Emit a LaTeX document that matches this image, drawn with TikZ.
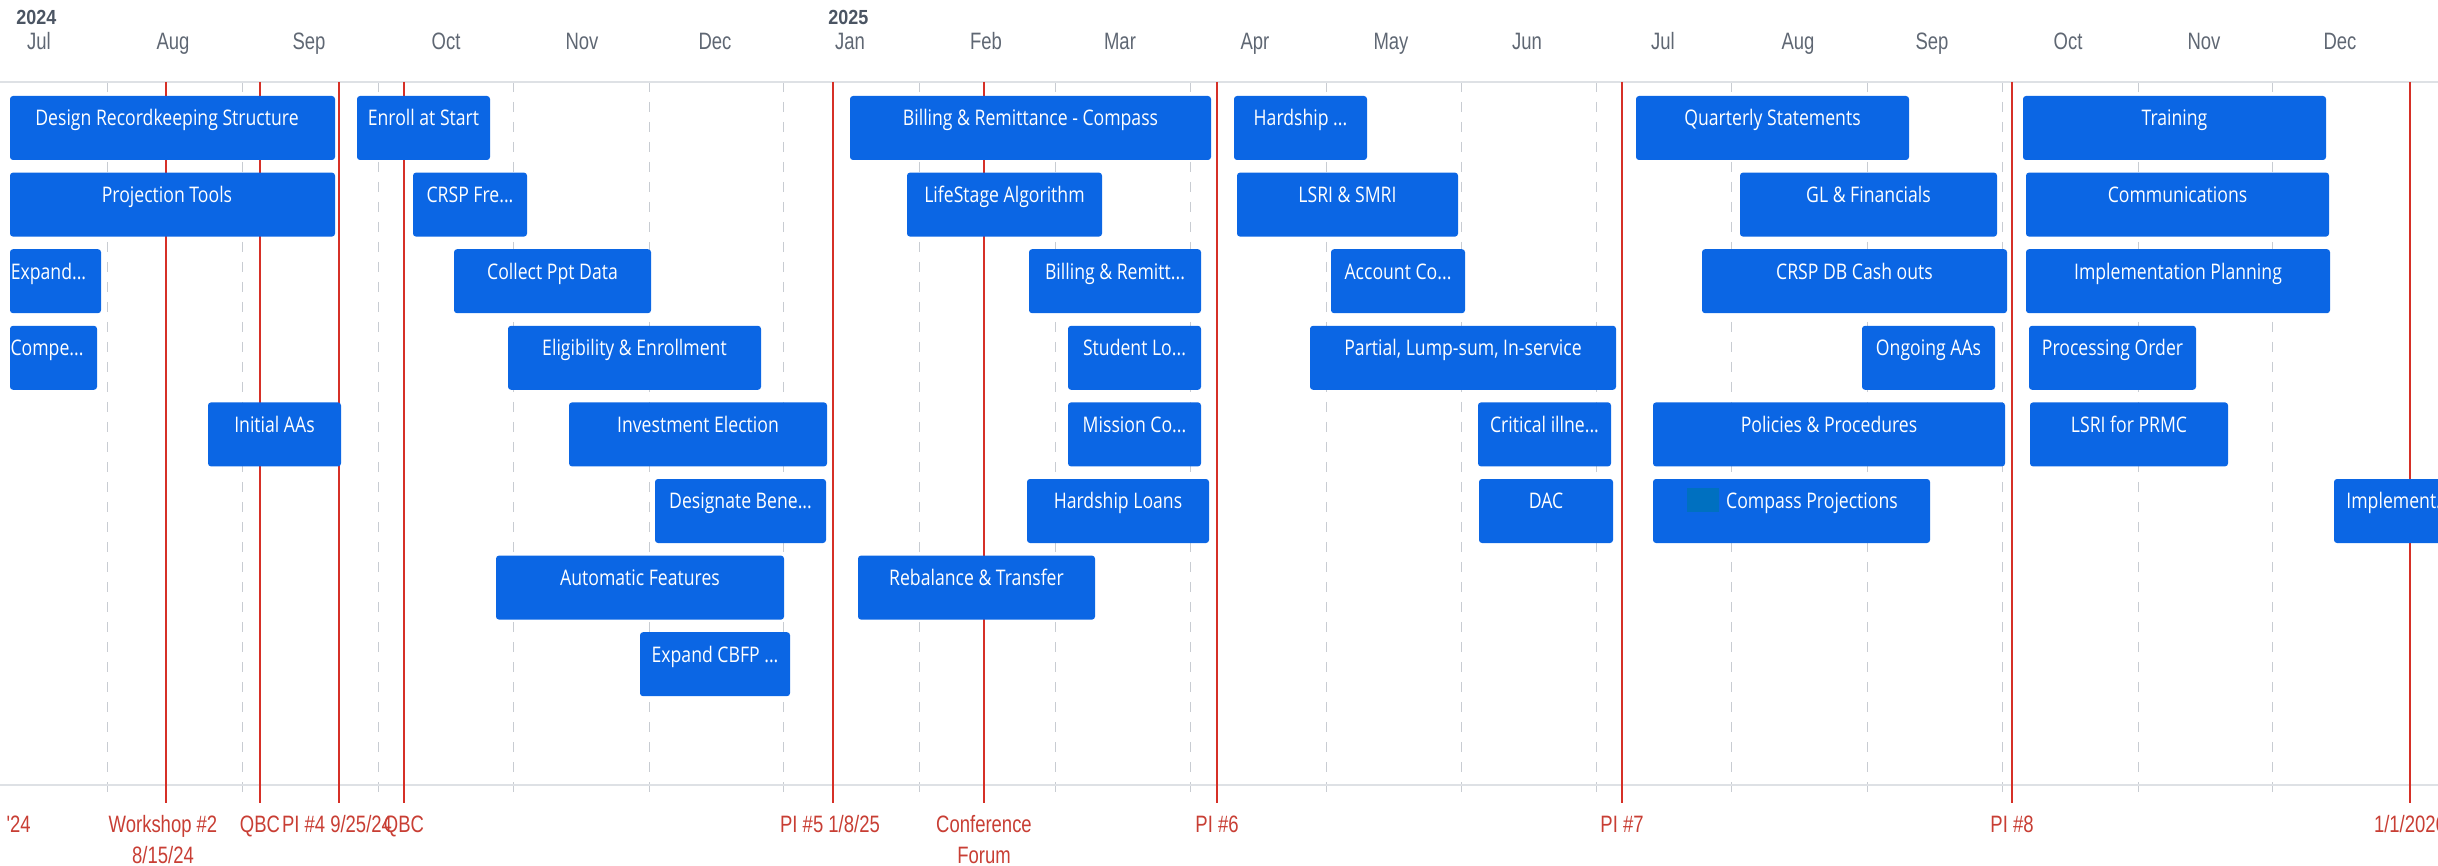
\documentclass[tikz,border=0pt]{standalone}
\usepackage{fontspec}
\setmainfont{Open Sans}
\newfontfamily\boxfont{Open Sans}[FakeStretch=0.82]
\newfontfamily\labfont{Liberation Sans}[FakeStretch=0.78]
\newfontfamily\yearfont{Liberation Sans}[FakeStretch=0.88]
\definecolor{barblue}{RGB}{11,102,228}
\definecolor{iconblue}{RGB}{0,112,192}
\definecolor{milered}{RGB}{214,48,39}
\definecolor{labred}{RGB}{200,62,52}
\definecolor{gridgray}{RGB}{200,204,210}
\definecolor{axisgray}{RGB}{222,225,229}
\definecolor{monthgray}{RGB}{95,103,115}
\definecolor{yeargray}{RGB}{75,85,99}
\tikzset{
  bar/.style={fill=barblue, rounded corners=1.5pt, minimum height=32pt, inner sep=0pt, draw=none},
  bartext/.style={text=white, font=\boxfont\fontsize{10.75}{12}\selectfont, anchor=base, inner sep=0pt},
  iconsq/.style={fill=iconblue, draw=none, minimum width=16pt, minimum height=12pt, inner sep=0pt},
  gridln/.style={draw=gridgray, line width=0.5pt, dash pattern=on 5pt off 5pt},
  axisln/.style={draw=axisgray, line width=1.25pt},
  redln/.style={draw=milered, line width=0.9pt},
  mlab/.style={text=monthgray, font=\labfont\fontsize{11.85}{13}\selectfont, anchor=base, inner sep=0pt},
  rlab/.style={text=labred, font=\labfont\fontsize{11.85}{13}\selectfont, anchor=base, inner sep=0pt},
  ylab/.style={text=yeargray, font=\yearfont\bfseries\fontsize{10.2}{11}\selectfont, anchor=base west, inner sep=0pt}
}
\newcommand\gtask[6][]{%
  \pgfmathsetmacro\gx{(#3+#4)/2}%
  \pgfmathsetmacro\gw{(#4-#3)*0.5}%
  \pgfmathsetmacro\gy{128+76.6*(#5-1)}%
  \pgfmathsetmacro\gb{\gy-2}%
  \node[bar, minimum width=\gw pt] (#2) at (\gx,\gy) {};%
  \node[bartext, #1] (#2-t) at (\gx,\gb) {#6};%
}
\newcommand\mline[2]{%
  \coordinate (#1-top) at (#2,82);%
  \coordinate (#1-bot) at (#2,803);%
  \draw[redln] (#1-top) -- (#1-bot);%
}
\begin{document}
\begin{tikzpicture}[x=0.5pt,y=-0.5pt]
\useasboundingbox (0,0) rectangle (2438,866);
\clip (0,0) rectangle (2438,866);
% year and month labels
\node[ylab] (y24) at (16,25) {2024};
\node[ylab] (y25) at (828,25) {2025};
\foreach \mx/\mn [count=\i] in {39/Jul,173/Aug,309/Sep,446/Oct,582/Nov,715/Dec,850/Jan,986/Feb,1120/Mar,1255/Apr,1391/May,1527/Jun,1663/Jul,1798/Aug,1932/Sep,2068/Oct,2204/Nov,2340/Dec}
  \node[mlab] (mon\i) at (\mx,50) {\mn};
% grid
\foreach \gxx in {107,242,378,513,649,783,919,1055,1190,1326,1461,1596,1731,1867,2002,2138,2272,2410}
  \draw[gridln] (\gxx,82) -- (\gxx,792);
\draw[axisln] (0,82) -- (2438,82);
\draw[axisln] (0,785) -- (2438,785);
% milestones
\mline{ms1}{166}
\mline{ms2}{260}
\mline{ms3}{339}
\mline{ms4}{404}
\mline{ms5}{833}
\mline{ms6}{984}
\mline{ms7}{1217}
\mline{ms8}{1622}
\mline{ms9}{2012}
\mline{ms10}{2410}
\node[rlab, anchor=base east] (ms0-l) at (31,832) {'24};
\node[rlab] (ms1-l) at (163,832) {Workshop \#2};
\node[rlab] (ms1-l2) at (163,863) {8/15/24};
\node[rlab] (ms2-l) at (260,832) {QBC};
\node[rlab] (ms3-l) at (337,832) {PI \#4 9/25/24};
\node[rlab] (ms4-l) at (404,832) {QBC};
\node[rlab] (ms5-l) at (830,832) {PI \#5 1/8/25};
\node[rlab] (ms6-l) at (984,832) {Conference};
\node[rlab] (ms6-l2) at (984,863) {Forum};
\node[rlab] (ms7-l) at (1217,832) {PI \#6};
\node[rlab] (ms8-l) at (1622,832) {PI \#7};
\node[rlab] (ms9-l) at (2012,832) {PI \#8};
\node[rlab] (ms10-l) at (2410,832) {1/1/2026};
% tasks 2024
\gtask[xshift=-2.75pt]{d1}{10}{335}{1}{Design Recordkeeping Structure}
\gtask{d2}{357}{490}{1}{Enroll at Start}
\gtask[xshift=-2.75pt]{d3}{10}{335}{2}{Projection Tools}
\gtask{d4}{413}{527}{2}{CRSP Fre...}
\gtask[xshift=-3.5pt]{d5}{10}{101}{3}{Expand...}
\gtask{d6}{454}{651}{3}{Collect Ppt Data}
\gtask[xshift=-3.25pt]{d7}{10}{97}{4}{Compe...}
\gtask{d8}{508}{761}{4}{Eligibility \& Enrollment}
\gtask{d9}{208}{341}{5}{Initial AAs}
\gtask{d10}{569}{827}{5}{Investment Election}
\gtask{d11}{655}{826}{6}{Designate Bene...}
\gtask{d12}{496}{784}{7}{Automatic Features}
\gtask{d13}{640}{790}{8}{Expand CBFP ...}
% tasks 2025 H1
\gtask{m1}{850}{1211}{1}{Billing \& Remittance - Compass}
\gtask{m2}{1234}{1367}{1}{Hardship ...}
\gtask{m3}{907}{1102}{2}{LifeStage Algorithm}
\gtask{m4}{1237}{1458}{2}{LSRI \& SMRI}
\gtask{m5}{1029}{1201}{3}{Billing \& Remitt...}
\gtask{m6}{1331}{1465}{3}{Account Co...}
\gtask{m7}{1068}{1201}{4}{Student Lo...}
\gtask{m8}{1310}{1616}{4}{Partial, Lump-sum, In-service}
\gtask{m9}{1068}{1201}{5}{Mission Co...}
\gtask{m10}{1478}{1611}{5}{Critical illne...}
\gtask{m11}{1027}{1209}{6}{Hardship Loans}
\gtask{m12}{1479}{1613}{6}{DAC}
\gtask{m13}{858}{1095}{7}{Rebalance \& Transfer}
% tasks 2025 H2
\gtask{r1}{1636}{1909}{1}{Quarterly Statements}
\gtask{r2}{2023}{2326}{1}{Training}
\gtask{r3}{1740}{1997}{2}{GL \& Financials}
\gtask{r4}{2026}{2329}{2}{Communications}
\gtask{r5}{1702}{2007}{3}{CRSP DB Cash outs}
\gtask{r6}{2026}{2330}{3}{Implementation Planning}
\gtask{r7}{1862}{1995}{4}{Ongoing AAs}
\gtask{r8}{2029}{2196}{4}{Processing Order}
\gtask{r9}{1653}{2005}{5}{Policies \& Procedures}
\gtask{r10}{2030}{2228}{5}{LSRI for PRMC}
\gtask[xshift=10.25pt]{r11}{1653}{1930}{6}{Compass Projections}
\node[iconsq] (r11-icon) at (1703,500) {};
\node[bar, minimum width=68pt] (r12) at (2402,511) {};
\node[bartext, anchor=base west] (r12-t) at (2346,509) {Implement...};
\end{tikzpicture}
\end{document}
